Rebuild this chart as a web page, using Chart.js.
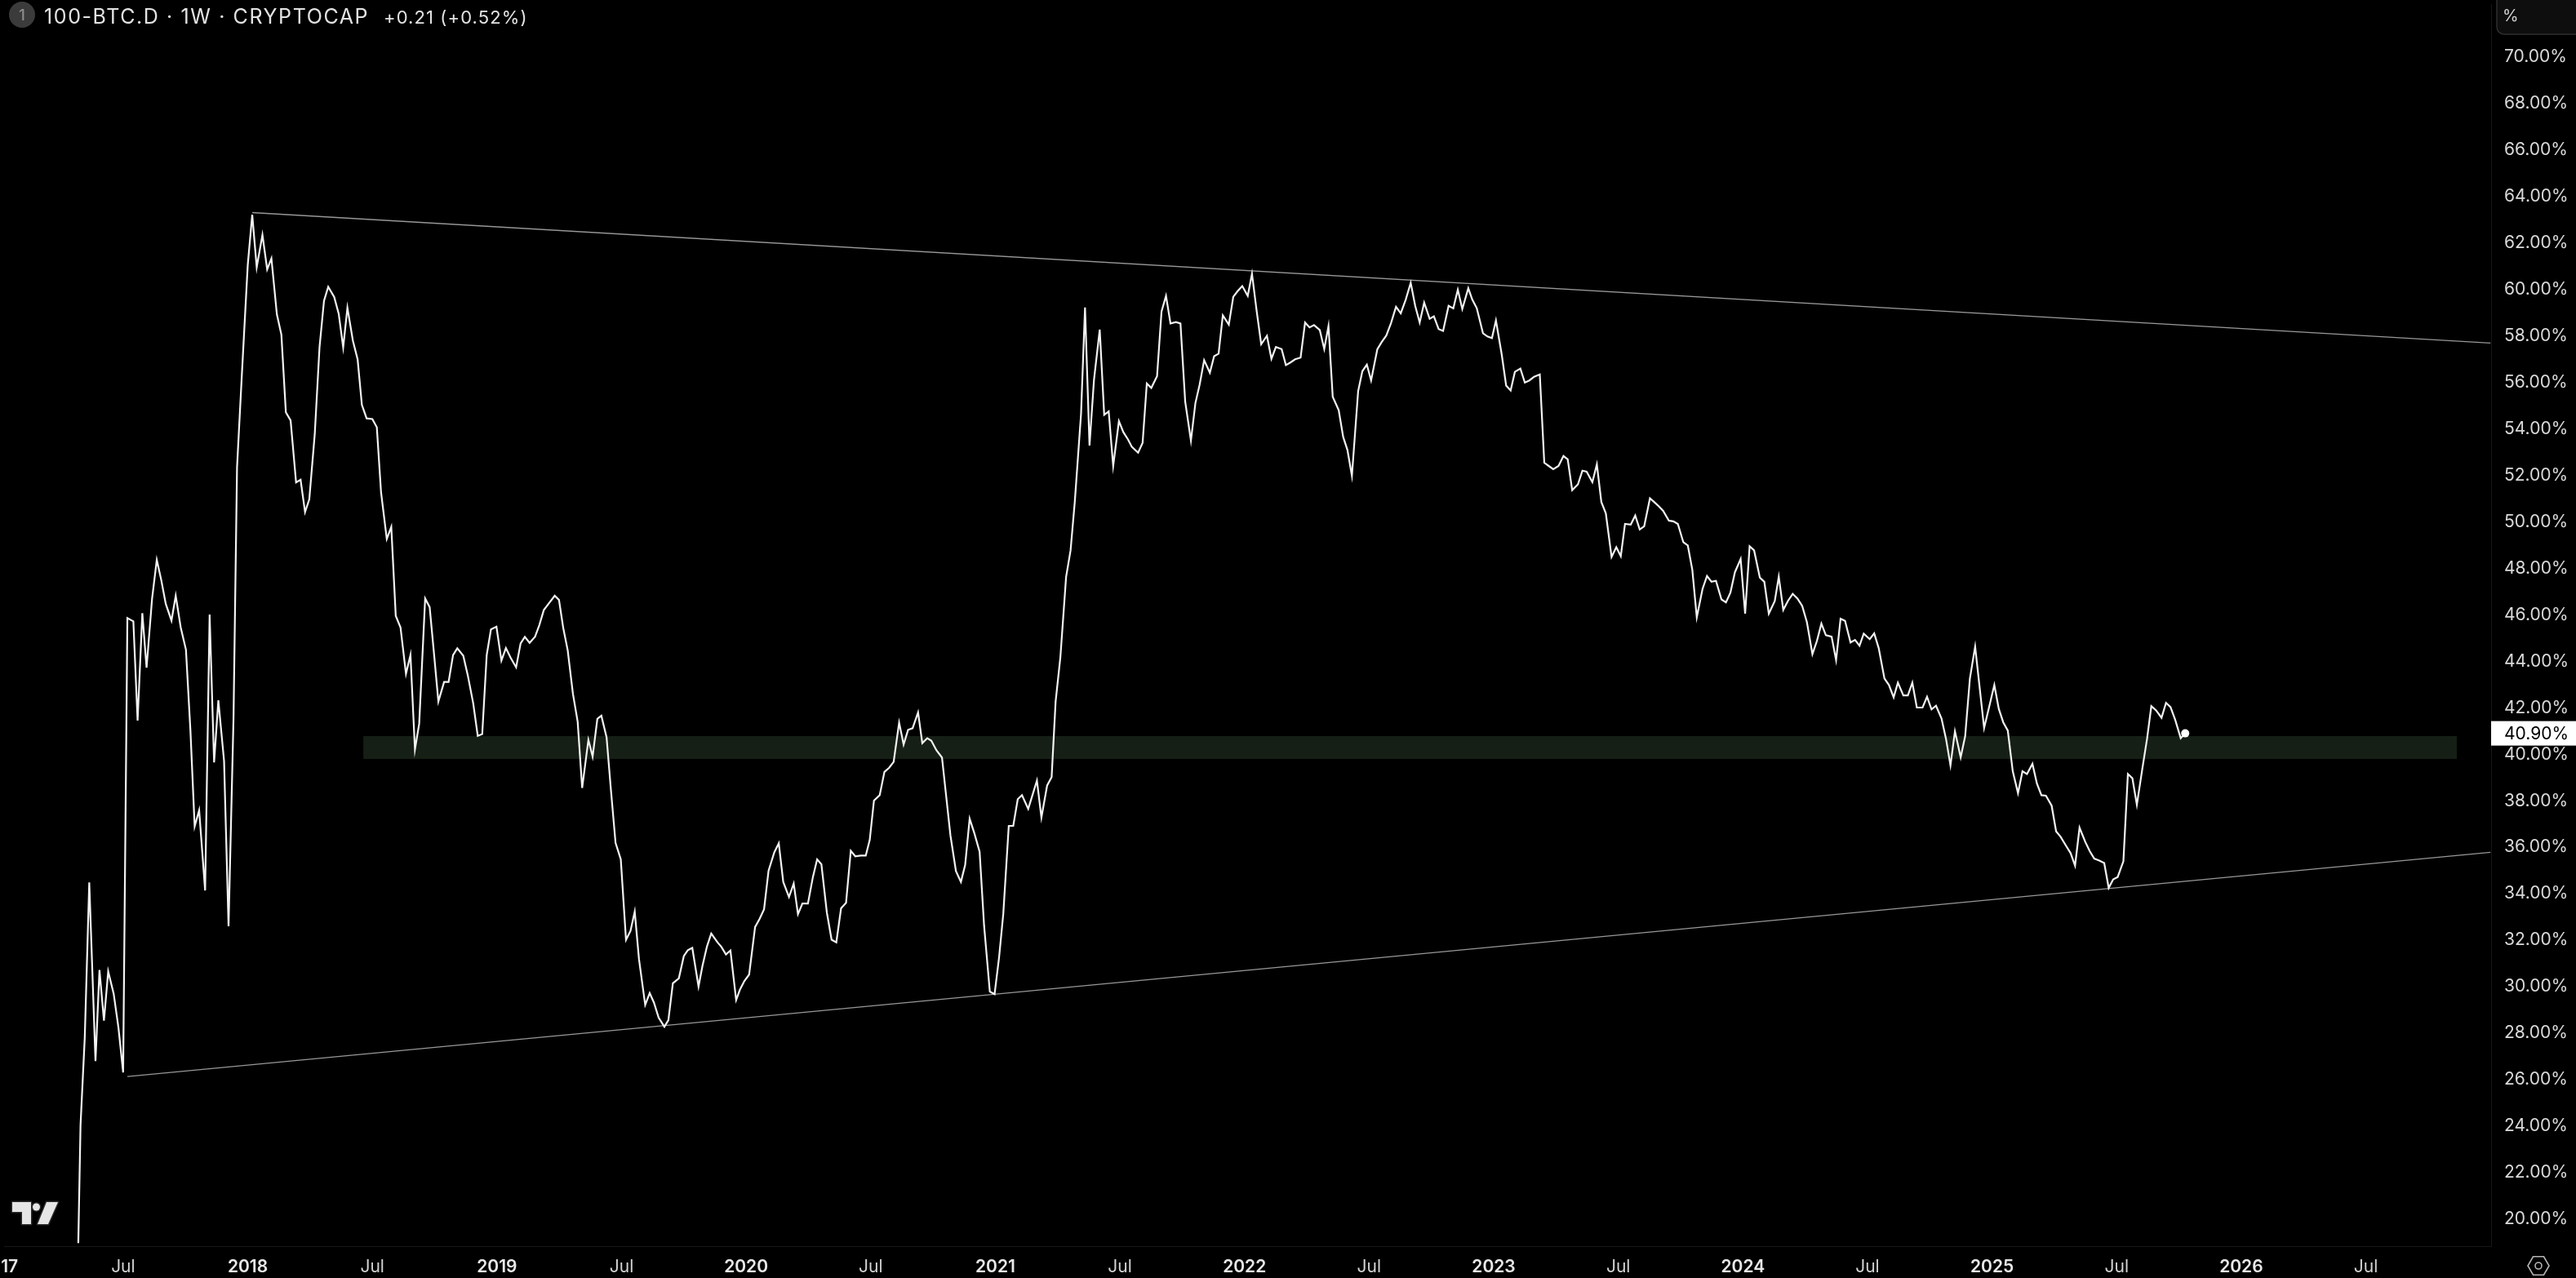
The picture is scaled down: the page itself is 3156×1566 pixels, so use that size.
<!DOCTYPE html>
<html>
<head>
<meta charset="utf-8">
<script src="https://cdn.jsdelivr.net/npm/chart.js@4.4.1/dist/chart.umd.min.js"></script>
<style>
  html, body { margin: 0; padding: 0; background: #000; }
  canvas { display: block; }
</style>
</head>
<body>
<canvas id="chart" width="3156" height="1566"></canvas>
<script>
// weekly closes, x as decimal year
const weekYears = [
  2017.320, 2017.329, 2017.346, 2017.364, 2017.389, 2017.405, 2017.423, 2017.440, 2017.462, 2017.481,
  2017.500, 2017.517, 2017.541, 2017.558, 2017.577, 2017.594, 2017.616, 2017.635, 2017.653, 2017.671,
  2017.694, 2017.711, 2017.731, 2017.752, 2017.770, 2017.787, 2017.805, 2017.829, 2017.847, 2017.865,
  2017.882, 2017.905, 2017.923, 2017.943, 2017.957, 2017.976, 2018.000, 2018.018, 2018.036, 2018.059,
  2018.078, 2018.095, 2018.117, 2018.135, 2018.153, 2018.172, 2018.194, 2018.212, 2018.230, 2018.247,
  2018.269, 2018.288, 2018.306, 2018.323, 2018.347, 2018.365, 2018.383, 2018.400, 2018.422, 2018.441,
  2018.458, 2018.477, 2018.500, 2018.518, 2018.535, 2018.558, 2018.576, 2018.594, 2018.613, 2018.635,
  2018.653, 2018.671, 2018.688, 2018.712, 2018.730, 2018.748, 2018.765, 2018.788, 2018.806, 2018.824,
  2018.841, 2018.865, 2018.883, 2018.905, 2018.923, 2018.941, 2018.959, 2018.976, 2018.998, 2019.018,
  2019.036, 2019.055, 2019.077, 2019.095, 2019.112, 2019.131, 2019.153, 2019.170, 2019.188, 2019.207,
  2019.232, 2019.249, 2019.266, 2019.284, 2019.305, 2019.324, 2019.342, 2019.367, 2019.384, 2019.403,
  2019.419, 2019.440, 2019.457, 2019.476, 2019.497, 2019.518, 2019.536, 2019.553, 2019.570, 2019.595,
  2019.613, 2019.630, 2019.649, 2019.672, 2019.688, 2019.706, 2019.730, 2019.750, 2019.766, 2019.784,
  2019.809, 2019.825, 2019.843, 2019.860, 2019.885, 2019.901, 2019.919, 2019.937, 2019.960, 2019.975,
  2019.993, 2020.012, 2020.036, 2020.054, 2020.072, 2020.090, 2020.113, 2020.131, 2020.149, 2020.172,
  2020.191, 2020.208, 2020.226, 2020.248, 2020.268, 2020.285, 2020.302, 2020.324, 2020.343, 2020.362,
  2020.381, 2020.401, 2020.420, 2020.438, 2020.460, 2020.480, 2020.496, 2020.513, 2020.536, 2020.555,
  2020.574, 2020.592, 2020.614, 2020.632, 2020.650, 2020.668, 2020.690, 2020.707, 2020.727, 2020.743,
  2020.764, 2020.786, 2020.803, 2020.820, 2020.842, 2020.862, 2020.879, 2020.897, 2020.916, 2020.937,
  2020.955, 2020.978, 2020.997, 2021.015, 2021.032, 2021.054, 2021.072, 2021.090, 2021.107, 2021.132,
  2021.149, 2021.167, 2021.185, 2021.208, 2021.226, 2021.242, 2021.261, 2021.284, 2021.302, 2021.319,
  2021.344, 2021.360, 2021.378, 2021.396, 2021.419, 2021.437, 2021.455, 2021.473, 2021.496, 2021.514,
  2021.532, 2021.548, 2021.573, 2021.591, 2021.608, 2021.626, 2021.649, 2021.667, 2021.685, 2021.703,
  2021.725, 2021.743, 2021.762, 2021.785, 2021.803, 2021.820, 2021.838, 2021.861, 2021.878, 2021.896,
  2021.913, 2021.937, 2021.955, 2021.973, 2021.991, 2022.013, 2022.030, 2022.049, 2022.067, 2022.090,
  2022.108, 2022.126, 2022.149, 2022.166, 2022.184, 2022.203, 2022.225, 2022.243, 2022.261, 2022.279,
  2022.302, 2022.320, 2022.337, 2022.354, 2022.378, 2022.396, 2022.413, 2022.431, 2022.456, 2022.473,
  2022.491, 2022.508, 2022.533, 2022.551, 2022.569, 2022.588, 2022.608, 2022.627, 2022.647, 2022.667,
  2022.685, 2022.703, 2022.721, 2022.743, 2022.760, 2022.779, 2022.797, 2022.819, 2022.838, 2022.856,
  2022.874, 2022.898, 2022.914, 2022.932, 2022.957, 2022.975, 2022.993, 2023.009, 2023.032, 2023.050,
  2023.068, 2023.085, 2023.107, 2023.125, 2023.143, 2023.162, 2023.185, 2023.203, 2023.221, 2023.239,
  2023.260, 2023.280, 2023.297, 2023.315, 2023.338, 2023.356, 2023.373, 2023.396, 2023.414, 2023.432,
  2023.450, 2023.473, 2023.492, 2023.510, 2023.527, 2023.550, 2023.568, 2023.586, 2023.604, 2023.627,
  2023.644, 2023.662, 2023.680, 2023.703, 2023.721, 2023.739, 2023.761, 2023.779, 2023.797, 2023.815,
  2023.838, 2023.856, 2023.874, 2023.892, 2023.914, 2023.932, 2023.950, 2023.968, 2023.991, 2024.009,
  2024.027, 2024.045, 2024.068, 2024.086, 2024.104, 2024.128, 2024.144, 2024.162, 2024.181, 2024.200,
  2024.219, 2024.238, 2024.257, 2024.279, 2024.297, 2024.315, 2024.333, 2024.356, 2024.374, 2024.392,
  2024.410, 2024.432, 2024.450, 2024.468, 2024.485, 2024.509, 2024.527, 2024.545, 2024.568, 2024.586,
  2024.605, 2024.622, 2024.644, 2024.662, 2024.680, 2024.698, 2024.721, 2024.739, 2024.757, 2024.775,
  2024.797, 2024.815, 2024.833, 2024.851, 2024.874, 2024.892, 2024.911, 2024.932, 2024.950, 2024.968,
  2024.989, 2025.009, 2025.027, 2025.045, 2025.063, 2025.083, 2025.104, 2025.122, 2025.140, 2025.162,
  2025.180, 2025.198, 2025.216, 2025.239, 2025.257, 2025.275, 2025.297, 2025.315, 2025.333, 2025.351,
  2025.374, 2025.392, 2025.410, 2025.432, 2025.450, 2025.468, 2025.486, 2025.504, 2025.527, 2025.545,
  2025.563, 2025.581, 2025.603, 2025.622, 2025.639, 2025.658, 2025.680, 2025.698, 2025.716, 2025.735,
  2025.757, 2025.775
];

const othersDominance = [
  18.97, 24.05, 27.82, 34.49, 26.80, 30.72, 28.54, 30.66, 29.70, 28.25,
  26.31, 45.86, 45.72, 41.45, 46.07, 43.72, 46.68, 48.36, 47.49, 46.47,
  45.75, 46.82, 45.46, 44.50, 41.02, 36.90, 37.59, 34.14, 46.01, 39.65,
  42.32, 39.71, 32.60, 41.60, 52.33, 56.25, 61.04, 63.21, 60.95, 62.34,
  60.86, 61.33, 58.92, 58.05, 54.71, 54.36, 51.69, 51.81, 50.42, 50.97,
  53.78, 57.50, 59.50, 60.11, 59.67, 58.95, 57.50, 59.21, 57.79, 56.98,
  55.03, 54.45, 54.42, 54.07, 51.26, 49.26, 49.78, 45.95, 45.46, 43.46,
  44.27, 40.21, 41.31, 46.70, 46.33, 44.27, 42.27, 43.11, 43.11, 44.27,
  44.56, 44.24, 43.40, 42.18, 40.79, 40.87, 44.27, 45.37, 45.49, 44.03,
  44.57, 44.15, 43.74, 44.77, 45.05, 44.79, 45.06, 45.55, 46.20, 46.47,
  46.82, 46.64, 45.44, 44.47, 42.60, 41.40, 38.55, 40.62, 39.90, 41.52,
  41.66, 40.73, 38.52, 36.19, 35.48, 32.02, 32.40, 33.23, 31.19, 29.22,
  29.73, 29.32, 28.67, 28.28, 28.56, 30.15, 30.36, 31.32, 31.57, 31.67,
  30.01, 30.91, 31.74, 32.29, 31.91, 31.71, 31.39, 31.56, 29.43, 29.87,
  30.25, 30.52, 32.57, 32.92, 33.33, 34.99, 35.78, 36.17, 34.51, 33.86,
  34.44, 33.12, 33.58, 33.58, 34.72, 35.48, 35.27, 33.19, 32.02, 31.91,
  33.37, 33.61, 35.85, 35.61, 35.64, 35.64, 36.31, 38.01, 38.24, 39.24,
  39.42, 39.67, 41.36, 40.42, 41.05, 41.12, 41.80, 40.48, 40.69, 40.59,
  40.17, 39.86, 38.18, 36.50, 34.97, 34.51, 35.24, 37.23, 36.60, 35.81,
  32.62, 29.79, 29.68, 31.25, 33.14, 36.92, 36.92, 38.07, 38.24, 37.65,
  38.24, 38.87, 37.28, 38.66, 39.02, 42.27, 44.16, 47.62, 48.77, 50.87,
  54.64, 59.22, 53.28, 56.11, 58.27, 54.60, 54.75, 52.40, 54.33, 53.85,
  53.55, 53.22, 52.97, 53.39, 55.95, 55.76, 56.26, 59.05, 59.72, 58.53,
  58.59, 58.53, 55.17, 53.49, 55.11, 55.90, 56.95, 56.41, 57.12, 57.23,
  58.88, 58.48, 59.68, 59.93, 60.14, 59.72, 60.67, 59.05, 57.64, 58.00,
  57.01, 57.52, 57.43, 56.74, 56.85, 56.99, 57.06, 58.57, 58.36, 58.46,
  58.25, 57.43, 58.42, 55.38, 54.80, 53.65, 53.09, 51.98, 55.62, 56.48,
  56.76, 56.08, 57.42, 57.74, 58.01, 58.55, 59.25, 58.97, 59.56, 60.28,
  59.29, 58.57, 59.43, 58.73, 58.84, 58.29, 58.21, 59.29, 59.18, 59.98,
  59.15, 60.05, 59.56, 59.19, 58.11, 57.97, 57.90, 58.66, 57.21, 55.86,
  55.65, 56.45, 56.59, 55.99, 56.08, 56.24, 56.34, 52.54, 52.40, 52.26,
  52.40, 52.83, 52.69, 51.36, 51.61, 52.20, 52.16, 51.71, 52.47, 50.85,
  50.36, 48.49, 48.91, 48.52, 49.91, 49.88, 50.27, 49.67, 49.81, 51.01,
  50.85, 50.67, 50.47, 50.05, 50.02, 49.91, 49.12, 48.98, 47.94, 45.89,
  47.11, 47.67, 47.42, 47.46, 46.66, 46.53, 46.95, 47.83, 48.40, 46.05,
  48.95, 48.77, 47.60, 47.42, 46.05, 46.59, 47.64, 46.21, 46.60, 46.90,
  46.70, 46.38, 45.68, 44.31, 44.87, 45.62, 45.12, 45.06, 44.05, 45.83,
  45.74, 44.81, 44.92, 44.67, 45.19, 44.95, 45.20, 44.57, 43.26, 42.98,
  42.45, 43.08, 42.53, 42.53, 43.08, 42.01, 42.01, 42.47, 41.93, 42.09,
  41.54, 40.67, 39.52, 40.99, 39.87, 40.78, 43.26, 44.63, 42.88, 41.13,
  42.07, 42.98, 41.95, 41.37, 41.02, 39.27, 38.33, 39.27, 39.15, 39.59,
  38.74, 38.24, 38.22, 37.79, 36.68, 36.45, 36.06, 35.75, 35.21, 36.84,
  36.23, 35.83, 35.51, 35.42, 35.32, 34.25, 34.62, 34.72, 35.40, 39.15,
  38.97, 37.83, 39.38, 40.67, 42.07, 41.89, 41.57, 42.21, 42.03, 41.48,
  40.69, 40.90
];

// drawn trendlines and the support zone
const upperTrendYears = [2018.018, 2027.0];
const upperTrendValues = [63.30, 57.69];
const lowerTrendYears = [2017.517, 2027.0];
const lowerTrendValues = [26.14, 35.78];
const zoneYears = [2018.464, 2026.865];
const zoneValues = [39.80, 40.78];

// axes
const xTickYears = [2017, 2017.5, 2018, 2018.5, 2019, 2019.5, 2020, 2020.5, 2021, 2021.5,
  2022, 2022.5, 2023, 2023.5, 2024, 2024.5, 2025, 2025.5, 2026, 2026.5];
const xTickLabels = ["2017", "Jul", "2018", "Jul", "2019", "Jul", "2020", "Jul", "2021", "Jul",
  "2022", "Jul", "2023", "Jul", "2024", "Jul", "2025", "Jul", "2026", "Jul"];
const yTickValues = [20, 22, 24, 26, 28, 30, 32, 34, 36, 38, 40, 42, 44, 46, 48, 50,
  52, 54, 56, 58, 60, 62, 64, 66, 68, 70];

const titleText = "100-BTC.D \u00b7 1W \u00b7 CRYPTOCAP";
const changeText = "+0.21 (+0.52%)";

const FONT = "Inter, 'Noto Sans', sans-serif";
const last = othersDominance.length - 1;

function pairs(xs, ys) {
  return xs.map((x, i) => ({ x: x, y: ys[i] }));
}

const tvDecor = {
  id: "tvDecor",
  beforeDraw(chart) {
    const c = chart.ctx;
    c.save();
    c.fillStyle = "#000";
    c.fillRect(0, 0, chart.width, chart.height);
    c.restore();
  },
  beforeDatasetsDraw(chart) {
    const c = chart.ctx, x = chart.scales.x, y = chart.scales.y;
    const x0 = x.getPixelForValue(zoneYears[0]), x1 = x.getPixelForValue(zoneYears[1]);
    const y0 = y.getPixelForValue(zoneValues[1]), y1 = y.getPixelForValue(zoneValues[0]);
    c.save();
    c.fillStyle = "rgb(22,31,21)";
    c.fillRect(x0, y0, x1 - x0, y1 - y0);
    c.restore();
  },
  afterDraw(chart) {
    const c = chart.ctx, y = chart.scales.y, area = chart.chartArea;
    c.save();

    // header
    c.fillStyle = "#3b3b3b";
    c.beginPath(); c.arc(27, 18, 16, 0, Math.PI * 2); c.fill();
    c.fillStyle = "#8c8c8c";
    c.font = "500 19px " + FONT;
    c.textAlign = "center"; c.textBaseline = "middle";
    c.fillText("1", 27, 19);
    c.textAlign = "left"; c.textBaseline = "alphabetic";
    c.fillStyle = "#e3e3e3";
    c.letterSpacing = "1.6px";
    c.font = "400 25px " + FONT;
    c.fillText(titleText, 54, 28.5);
    c.letterSpacing = "1.1px";
    c.font = "400 22px " + FONT;
    c.fillText(changeText, 470, 28.5);
    c.letterSpacing = "0px";

    // % box at top of price axis
    c.fillStyle = "#0e0e0e";
    c.strokeStyle = "#2e2e2e";
    c.lineWidth = 1.5;
    c.beginPath(); c.roundRect(3059, -12, 120, 54, 9); c.fill(); c.stroke();
    c.fillStyle = "#cfcfcf";
    c.font = "400 20px " + FONT;
    c.textBaseline = "middle";
    c.fillText("%", 3066, 20);

    // last value label
    const ly = y.getPixelForValue(othersDominance[last]);
    c.fillStyle = "#ffffff";
    c.fillRect(area.right, ly - 15, chart.width - area.right, 30);
    c.fillStyle = "#000";
    c.font = "400 21px " + FONT;
    c.fillText(othersDominance[last].toFixed(2) + "%", area.right + 16, ly + 1);

    // settings hexagon bottom right
    c.strokeStyle = "#b5b5b5";
    c.lineWidth = 1.6;
    c.beginPath();
    for (let k = 0; k < 6; k++) {
      const a = k * Math.PI / 3;
      const px = 3110 + 13 * Math.cos(a), py = 1551 + 13 * Math.sin(a);
      if (k === 0) c.moveTo(px, py); else c.lineTo(px, py);
    }
    c.closePath(); c.stroke();
    c.beginPath(); c.arc(3110, 1551, 4, 0, Math.PI * 2); c.stroke();

    // TradingView mark bottom left
    c.fillStyle = "#e6e6e6";
    c.strokeStyle = "#2b2b2b";
    c.lineWidth = 3;
    c.lineJoin = "round";
    c.beginPath();
    c.moveTo(15, 1473); c.lineTo(38, 1473); c.lineTo(38, 1500); c.lineTo(27, 1500);
    c.lineTo(27, 1485); c.lineTo(15, 1485); c.closePath();
    c.moveTo(57, 1473); c.lineTo(71, 1473); c.lineTo(59, 1500); c.lineTo(46, 1500); c.closePath();
    c.stroke(); c.fill();
    c.beginPath(); c.arc(44.5, 1479, 4.5, 0, Math.PI * 2); c.stroke(); c.fill();

    c.restore();
  }
};

new Chart(document.getElementById("chart").getContext("2d"), {
  type: "line",
  data: {
    datasets: [
      {
        label: "100-BTC.D",
        data: pairs(weekYears, othersDominance),
        borderColor: "#f2f2f2",
        borderWidth: 2.2,
        pointRadius: ctx => (ctx.dataIndex === last ? 5 : 0),
        pointBackgroundColor: "#ffffff",
        pointBorderWidth: 0,
        tension: 0
      },
      {
        label: "upper",
        data: pairs(upperTrendYears, upperTrendValues),
        borderColor: "rgba(190,190,190,0.8)",
        borderWidth: 1.3,
        pointRadius: 0
      },
      {
        label: "lower",
        data: pairs(lowerTrendYears, lowerTrendValues),
        borderColor: "rgba(190,190,190,0.8)",
        borderWidth: 1.3,
        pointRadius: 0
      }
    ]
  },
  options: {
    responsive: false,
    animation: false,
    devicePixelRatio: 1,
    layout: { padding: 0 },
    plugins: { legend: { display: false }, tooltip: { enabled: false } },
    scales: {
      x: {
        type: "linear",
        bounds: "data",
        min: 2017.0222,
        max: 2027.0026,
        grid: { display: false, drawTicks: false },
        border: { display: true, color: "#171717", width: 1 },
        ticks: {
          autoSkip: false,
          maxRotation: 0,
          padding: 13,
          color: c => (/^\d{4}$/.test(xTickLabels[c.index]) ? "#e8e8e8" : "#d4d4d4"),
          font: c => ({ family: FONT, size: 21, weight: /^\d{4}$/.test(xTickLabels[c.index]) ? "600" : "400" }),
          callback: (v, i) => xTickLabels[i]
        },
        afterBuildTicks: s => { s.ticks = xTickYears.map(v => ({ value: v })); },
        afterFit: s => { s.height = 39; s.paddingLeft = 0; s.paddingRight = 0; }
      },
      y: {
        type: "linear",
        position: "right",
        bounds: "data",
        min: 18.84,
        max: 72.27,
        grid: { display: false, drawTicks: false },
        border: { display: true, color: "#171717", width: 1 },
        ticks: {
          autoSkip: false,
          padding: 16,
          crossAlign: "near",
          color: "#d9d9d9",
          font: { family: FONT, size: 21 },
          callback: v => v.toFixed(2) + "%"
        },
        afterBuildTicks: s => { s.ticks = yTickValues.map(v => ({ value: v })); },
        afterFit: s => { s.width = 104; s.paddingTop = 0; s.paddingBottom = 0; }
      }
    }
  },
  plugins: [tvDecor]
});
</script>
</body>
</html>
